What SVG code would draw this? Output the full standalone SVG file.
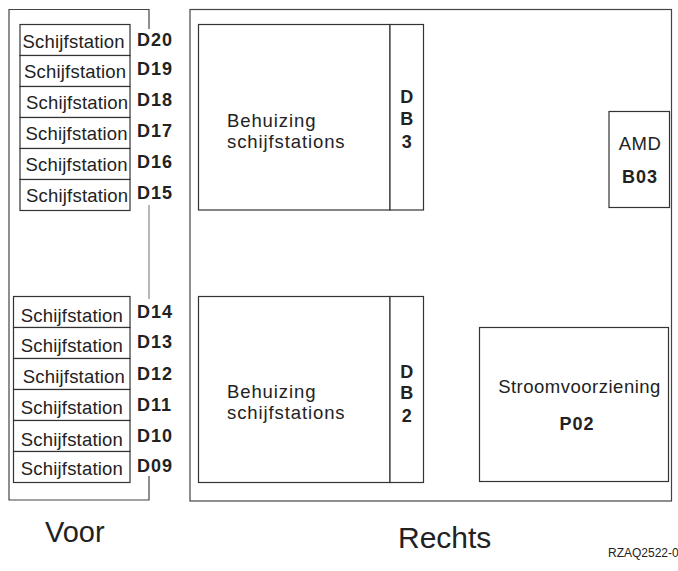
<svg xmlns="http://www.w3.org/2000/svg" width="678" height="571" viewBox="0 0 678 571">
<style>
  .box { fill: #fff; stroke: #333; stroke-width: 1.2; }
  .frame { fill: none; stroke: #444; stroke-width: 1.2; }
  .conn { fill: none; stroke: #888; stroke-width: 1.2; }
  text { font-family: "Liberation Sans", Arial, sans-serif; fill: #222; }
  .drv { font-size: 18.5px; letter-spacing: 0.2px; }
  .lbl { font-size: 18px; font-weight: bold; letter-spacing: 1px; }
  .enc { font-size: 18.5px; letter-spacing: 0.9px; }
  .db { font-size: 18px; font-weight: bold; text-anchor: middle; }
  .mid { text-anchor: middle; }
  .med { font-size: 18.5px; letter-spacing: 0.5px; }
  .big { font-size: 30px; }
</style>
<rect width="678" height="571" fill="#fff"/>

<g id="voor-frame">
  <path class="frame" d="M149,29 V9.5 H9 V500 H149 V476"/>
</g>
<g id="rechts-frame">
  <rect class="frame" x="190" y="9.5" width="481.5" height="491.5"/>
</g>

<g id="connectors">
  <line class="conn" x1="149" y1="205" x2="149" y2="299"/>
</g>

<g id="D20"><rect class="box" x="20" y="24.5" width="110" height="31"/><text class="drv" x="22.5" y="48.3">Schijfstation</text><text class="lbl" x="137" y="45.7">D20</text></g>
<g id="D19"><rect class="box" x="20" y="55.5" width="110" height="31"/><text class="drv" x="24" y="77.7">Schijfstation</text><text class="lbl" x="137" y="75">D19</text></g>
<g id="D18"><rect class="box" x="20" y="86.5" width="110" height="31"/><text class="drv" x="26" y="109">Schijfstation</text><text class="lbl" x="137" y="106">D18</text></g>
<g id="D17"><rect class="box" x="20" y="117.5" width="110" height="31"/><text class="drv" x="25.5" y="140">Schijfstation</text><text class="lbl" x="137" y="137.3">D17</text></g>
<g id="D16"><rect class="box" x="20" y="148.5" width="110" height="31"/><text class="drv" x="25.5" y="170.7">Schijfstation</text><text class="lbl" x="137" y="168.3">D16</text></g>
<g id="D15"><rect class="box" x="20" y="179.5" width="110" height="31"/><text class="drv" x="26" y="201.7">Schijfstation</text><text class="lbl" x="137" y="199">D15</text></g>

<g id="D14"><rect class="box" x="13.5" y="296.5" width="116.5" height="31"/><text class="drv" x="20.7" y="321.7">Schijfstation</text><text class="lbl" x="137" y="317.7">D14</text></g>
<g id="D13"><rect class="box" x="13.5" y="327.5" width="116.5" height="31"/><text class="drv" x="20.7" y="351.7">Schijfstation</text><text class="lbl" x="137" y="348.3">D13</text></g>
<g id="D12"><rect class="box" x="13.5" y="358.5" width="116.5" height="31"/><text class="drv" x="22.7" y="383.3">Schijfstation</text><text class="lbl" x="137" y="380">D12</text></g>
<g id="D11"><rect class="box" x="13.5" y="389.5" width="116.5" height="31"/><text class="drv" x="20.7" y="414">Schijfstation</text><text class="lbl" x="137" y="410.7">D11</text></g>
<g id="D10"><rect class="box" x="13.5" y="420.5" width="116.5" height="31"/><text class="drv" x="20.7" y="445.7">Schijfstation</text><text class="lbl" x="137" y="441.7">D10</text></g>
<g id="D09"><rect class="box" x="13.5" y="451.5" width="116.5" height="31"/><text class="drv" x="20.7" y="475">Schijfstation</text><text class="lbl" x="137" y="471.7">D09</text></g>

<g id="DB3">
  <rect class="box" x="198.5" y="24.5" width="191.5" height="185.5"/>
  <rect class="box" x="390" y="24.5" width="33.5" height="185.5"/>
  <text class="enc" x="227" y="127">Behuizing</text>
  <text class="enc" x="227" y="148">schijfstations</text>
  <text class="db" x="406.7" y="103">D</text>
  <text class="db" x="406.7" y="125">B</text>
  <text class="db" x="406.7" y="148">3</text>
</g>

<g id="DB2">
  <rect class="box" x="198.5" y="296.5" width="191.5" height="186"/>
  <rect class="box" x="390" y="296.5" width="33.5" height="186"/>
  <text class="enc" x="227" y="397.5">Behuizing</text>
  <text class="enc" x="227" y="418.5">schijfstations</text>
  <text class="db" x="406.7" y="377.7">D</text>
  <text class="db" x="406.7" y="399">B</text>
  <text class="db" x="406.7" y="421.7">2</text>
</g>

<g id="B03">
  <rect class="box" x="609" y="111.5" width="60.5" height="96"/>
  <text class="med mid" x="640" y="150">AMD</text>
  <text class="lbl mid" x="640" y="182.7">B03</text>
</g>

<g id="P02">
  <rect class="box" x="479.5" y="327.5" width="189" height="154"/>
  <text class="med mid" x="579.5" y="393.3">Stroomvoorziening</text>
  <text class="lbl mid" x="577" y="430">P02</text>
</g>

<g id="captions">
  <text style="font-size:29px" x="45" y="542.3">Voor</text>
  <text class="big" x="398" y="548.3">Rechts</text>
  <text style="font-size:12px" x="608" y="557.3">RZAQ2522-0</text>
</g>
</svg>
